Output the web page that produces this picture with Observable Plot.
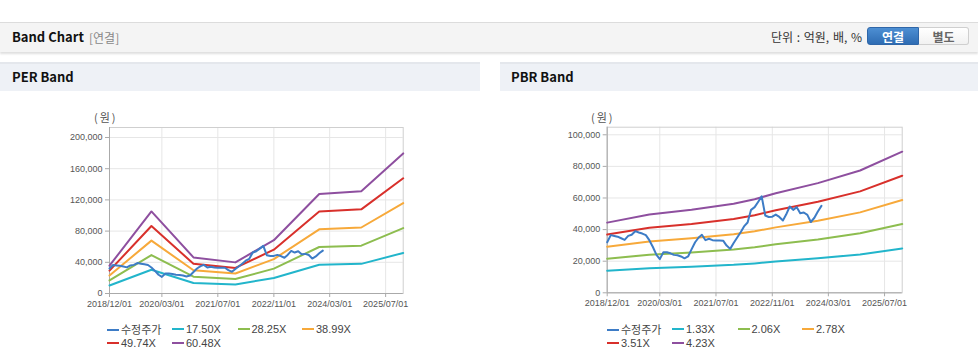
<!DOCTYPE html>
<html>
<head>
<meta charset="utf-8">
<script src="https://cdn.jsdelivr.net/npm/d3@7"></script>
<script src="https://cdn.jsdelivr.net/npm/@observablehq/plot@0.6"></script>
<style>
  html, body { margin: 0; padding: 0; background: #fff; }
  body { width: 978px; height: 361px; position: relative; overflow: hidden;
         font-family: "Noto Sans CJK KR", "Noto Sans", sans-serif; }
  .abs { position: absolute; }
  .topbar { left: 0; top: 22px; width: 978px; height: 29px; background: #f4f4f4;
            border-top: 1px solid #dcdcdc; box-shadow: 0 2px 2px rgba(0,0,0,0.13); }
  .title { font-weight: bold; font-size: 13px; color: #111; line-height: 16px; }
  .sub { font-size: 12px; color: #888; line-height: 16px; }
  .unit { font-size: 12px; color: #333; line-height: 16px; word-spacing: 1px; }
  .btn { top: 27px; height: 18px; font-size: 12px; font-weight: bold; line-height: 18px; text-align: center; box-sizing: border-box; }
  .btn1 { left: 867px; width: 52px; color: #fff; background: linear-gradient(#4d8fd3, #2e6cb3); border: 1px solid #2f66a8; border-radius: 3px 0 0 3px; }
  .btn2 { left: 919px; width: 50px; color: #666; background: linear-gradient(#ffffff, #f1f1f1); border: 1px solid #cfcfcf; border-left: none; border-radius: 0 3px 3px 0; }
  .panelhead { top: 62px; height: 27px; background: #eef1f6; border-top: 2px solid #e4e7ec; }
  .ylab { font-size: 11px; color: #555; line-height: 14px; letter-spacing: 2px; }
  .leg { font-size: 11px; color: #444; line-height: 14px; white-space: nowrap; font-family: "Liberation Sans", Arial, sans-serif; }
  .leg .sw { display: inline-block; width: 12px; height: 2px; vertical-align: middle; margin-right: 2px; position: relative; top: -1px; }
  .leg .ko { font-family: "Noto Sans CJK KR", sans-serif; font-size: 11px; }
</style>
</head>
<body>
<div class="abs topbar"></div>
<div class="abs title" style="left:12px; top:29px;">Band Chart</div>
<div class="abs sub" style="left:89px; top:30px;">[연결]</div>
<div class="abs unit" style="left:771px; top:29px;">단위 : 억원, 배, %</div>
<div class="abs btn btn1">연결</div>
<div class="abs btn btn2">별도</div>

<div class="abs panelhead" style="left:0; width:480px;"></div>
<div class="abs title" style="left:12px; top:69px;">PER Band</div>
<div class="abs panelhead" style="left:500px; width:478px;"></div>
<div class="abs title" style="left:511px; top:69px;">PBR Band</div>

<div class="abs ylab" style="left:94px; top:110px;">(원)</div>
<div class="abs ylab" style="left:591px; top:110px;">(원)</div>

<div id="per" class="abs" style="left:0; top:100px;"></div>
<div id="pbr" class="abs" style="left:489px; top:100px;"></div>
<div id="perLeg"></div>
<div id="pbrLeg"></div>

<script>
// ---------- data ----------
const priceStart = "2018-12-01";
const priceValues = [32000,36500,36000,35500,34500,33500,36000,36700,39000,38200,
  37500,36500,33300,29000,24000,21300,25700,25700,25000,24000,
  23800,23000,21800,23000,27500,32000,35000,36700,33300,34200,
  33300,33100,33100,33000,29900,27800,31500,35000,38500,42000,
  44500,52500,54200,57500,61000,48900,48000,48200,49500,48000,
  45800,49500,54600,52500,54200,50400,50800,49300,44800,47500,
  51500,55000];

const perBandDates = ["2018-12-01","2019-12-01","2020-12-01","2021-12-01","2022-11-01","2023-12-01","2024-12-01","2025-12-01"];
const perBand1 = [10300, 30500, 13400, 11600, 19800, 36900, 38000, 52000];
const perBand2 = [16700, 49200, 21600, 18600, 31900, 59600, 61300, 83900];
const perBand3 = [23000, 67800, 29800, 25700, 44100, 82300, 84600, 115800];
const perBand4 = [29300, 86500, 38100, 32800, 56200, 105000, 107900, 147700];
const perBand5 = [35700, 105200, 46300, 39900, 68300, 127600, 131200, 179600];

const pbrBandDates = ["2018-12-01","2019-12-01","2020-12-01","2021-12-01","2022-06-01","2022-12-01","2023-12-01","2024-12-01","2025-12-01"];
const pbrBand1 = [14000, 15600, 16500, 17700, 18600, 19800, 21800, 24300, 28100];
const pbrBand2 = [21600, 24100, 25500, 27400, 28800, 30700, 33800, 37700, 43500];
const pbrBand3 = [29200, 32500, 34500, 37000, 38900, 41400, 45600, 50900, 58700];
const pbrBand4 = [36900, 41100, 43500, 46700, 49100, 52300, 57600, 64200, 74100];
const pbrBand5 = [44400, 49500, 52500, 56300, 59200, 63000, 69400, 77400, 89300];

const perNames = ["수정주가", "17.50X", "28.25X", "38.99X", "49.74X", "60.48X"];
const pbrNames = ["수정주가", "1.33X", "2.06X", "2.78X", "3.51X", "4.23X"];
const seriesColors = ["#3d7cc6", "#22b5cb", "#8dbd4f", "#f7a93a", "#d8302b", "#8e4f9f"];

const xTickLabels = ["2018/12/01", "2020/03/01", "2021/07/01", "2022/11/01", "2024/03/01", "2025/07/01"];
const perYTicks = [0, 40000, 80000, 120000, 160000, 200000];
const pbrYTicks = [0, 20000, 40000, 60000, 80000, 100000];

// ---------- build ----------
const parse = s => new Date(s.replace(/\//g, "-") + "T00:00:00Z");
const priceRows = priceValues.map((v, i) => ({date: d3.utcMonth.offset(parse(priceStart), i), value: v}));

function bandRows(dates, bands, names) {
  const rows = [];
  bands.forEach((arr, k) => arr.forEach((v, i) => rows.push({series: names[k + 1], date: parse(dates[i]), value: v})));
  return rows;
}

function chart(el, bandData, names, yMax, yTicks, mL, mR, mT, mB, w) {
  const rows = bandRows(bandData.dates, bandData.bands, names);
  const p = Plot.plot({
    width: w, height: 215,
    marginLeft: mL, marginRight: mR, marginTop: mT, marginBottom: mB,
    style: {fontFamily: "'Liberation Sans', Arial, sans-serif", fontSize: "9px", color: "#555", background: "transparent", overflow: "visible"},
    x: {type: "utc", domain: [parse("2018-12-01"), parse("2025-12-01")]},
    y: {domain: [0, yMax]},
    color: {domain: names, range: seriesColors},
    marks: [
      Plot.gridY(yTicks, {stroke: "#e6e6e6", strokeOpacity: 1}),
      Plot.gridX(xTickLabels.map(parse), {stroke: "#e6e6e6", strokeOpacity: 1}),
      Plot.frame({stroke: "#cfcfcf"}),
      Plot.axisY(yTicks, {tickFormat: d3.format(","), tickSize: 4, tickPadding: 3, stroke: "#aaa", fill: "#555", label: null}),
      Plot.axisX(xTickLabels.map(parse), {tickFormat: d3.utcFormat("%Y/%m/%d"), tickSize: 4, tickPadding: 3, stroke: "#aaa", fill: "#555", label: null}),
      Plot.ruleY([0], {stroke: "#aaa"}),
      Plot.ruleX([parse("2018-12-01")], {stroke: "#aaa"}),
      Plot.line(rows, {x: "date", y: "value", z: "series", stroke: "series", strokeWidth: 2}),
      Plot.line(priceRows, {x: "date", y: "value", stroke: () => names[0], strokeWidth: 2})
    ]
  });
  document.getElementById(el).appendChild(p);
}

chart("per", {dates: perBandDates, bands: [perBand1, perBand2, perBand3, perBand4, perBand5]}, perNames,
      212800, perYTicks, 109, 77.3, 27, 22, 480);
chart("pbr", {dates: pbrBandDates, bands: [pbrBand1, pbrBand2, pbrBand3, pbrBand4, pbrBand5]}, pbrNames,
      104800, pbrYTicks, 117.7, 76.3, 26.7, 22.7, 489);

function legend(el, names, x0) {
  const box = document.getElementById(el);
  const colX = [0, 65, 130.5, 195];
  names.forEach((n, i) => {
    const row = i < 4 ? 0 : 1;
    const col = i < 4 ? i : i - 4;
    const d = document.createElement("div");
    d.className = "abs leg";
    d.style.left = (x0 + colX[col]) + "px";
    d.style.top = (322 + row * 14) + "px";
    d.innerHTML = `<span class="sw" style="background:${seriesColors[i]}"></span><span class="${i === 0 ? 'ko' : ''}">${n}</span>`;
    box.appendChild(d);
  });
}
legend("perLeg", perNames, 107);
legend("pbrLeg", pbrNames, 607);
</script>
</body>
</html>
